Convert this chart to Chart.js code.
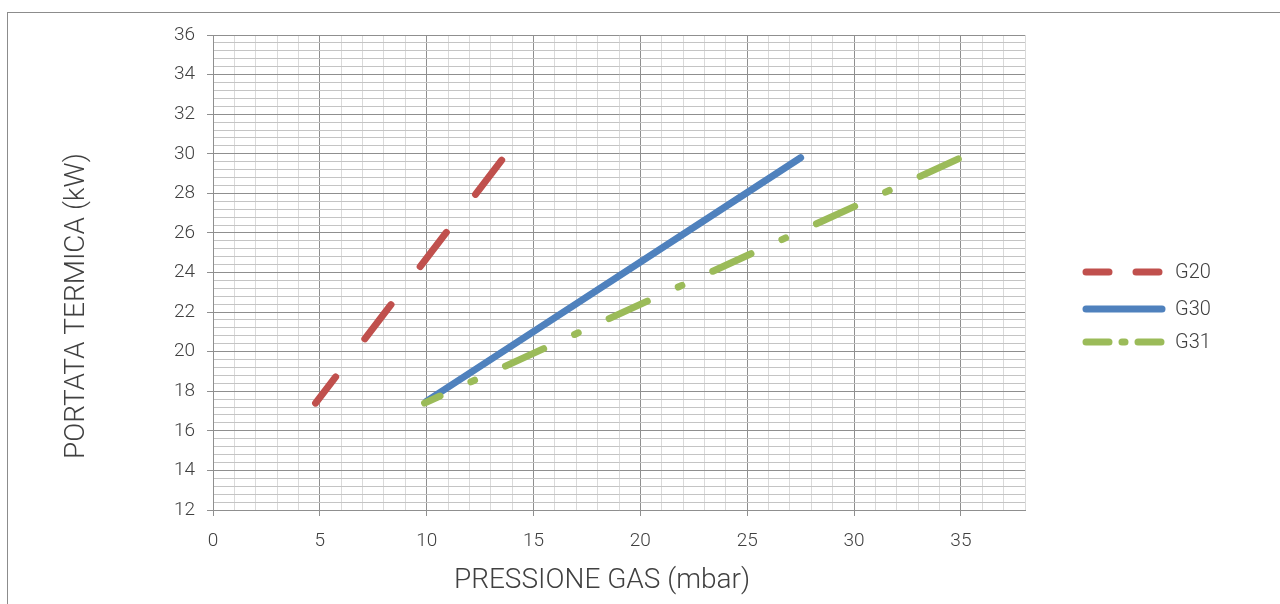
<!DOCTYPE html>
<html>
<head>
<meta charset="utf-8">
<script src="https://cdn.jsdelivr.net/npm/chart.js@4.4.1/dist/chart.umd.min.js"></script>
<style>
  html, body { margin: 0; padding: 0; background: #fff; overflow: hidden; }
  #wrap { position: relative; width: 1280px; height: 604px; }
  #frame { position: absolute; left: 7px; top: 12px; width: 1400px; height: 800px; border: 1px solid #8c8c8c; }
  #gasChart { position: absolute; left: 0; top: 0; }
</style>
</head>
<body>
<div id="wrap">
  <div id="frame"></div>
  <canvas id="gasChart" width="1280" height="604"></canvas>
</div>
<script>
// dati
const seriesNames = ['G20', 'G30', 'G31'];
const g20Pressure = [4.8, 13.6];
const g20Power = [17.4, 29.8];
const g30Pressure = [10.0, 27.5];
const g30Power = [17.5, 29.8];
const g31Pressure = [9.9, 35.0];
const g31Power = [17.4, 29.8];

const xTickLabels = [0, 5, 10, 15, 20, 25, 30, 35];
const yTickLabels = [12, 14, 16, 18, 20, 22, 24, 26, 28, 30, 32, 34, 36];

const xTitle = 'PRESSIONE GAS (mbar)';
const yTitle = 'PORTATA TERMICA (kW)';

const textColor = '#404040';
const majorGrid = '#8f8f8f';
const minorGridH = '#c4c4c4';
const minorGridV = '#dadada';
const fontFamily = 'Roboto, "Noto Sans", sans-serif';

function toPoints(xs, ys) {
  return xs.map((x, i) => ({ x: x, y: ys[i] }));
}
function isOn(v, list) {
  return list.some(t => Math.abs(t - v) < 1e-6);
}

// legenda disegnata a mano (trattini diversi da quelli del grafico)
const legendDash = [[23, 27], [], [23, 13, 3, 13]];
const legendY = [272, 309, 342];

const customLegend = {
  id: 'customLegend',
  afterDraw(chart) {
    const ctx = chart.ctx;
    ctx.save();
    chart.data.datasets.forEach((ds, i) => {
      ctx.beginPath();
      ctx.setLineDash(legendDash[i]);
      ctx.lineCap = 'round';
      ctx.lineWidth = 7;
      ctx.strokeStyle = ds.borderColor;
      ctx.moveTo(1086, legendY[i]);
      ctx.lineTo(1162, legendY[i]);
      ctx.stroke();
      ctx.setLineDash([]);
      ctx.fillStyle = textColor;
      ctx.font = '300 20px ' + fontFamily;
      ctx.textAlign = 'left';
      ctx.textBaseline = 'middle';
      ctx.fillText(ds.label, 1175, legendY[i] + 1);
    });
    ctx.restore();
  }
};

const axisTitles = {
  id: 'axisTitles',
  afterDraw(chart) {
    const ctx = chart.ctx;
    ctx.save();
    ctx.fillStyle = textColor;
    ctx.font = '300 28px ' + fontFamily;
    ctx.textAlign = 'center';
    ctx.textBaseline = 'middle';
    ctx.fillText(xTitle, 602, 581);
    ctx.translate(77, 306);
    ctx.rotate(-Math.PI / 2);
    ctx.fillText(yTitle, 0, 0);
    ctx.restore();
  }
};

const ctx = document.getElementById('gasChart').getContext('2d');
const gasChart = new Chart(ctx, {
  type: 'line',
  data: {
    datasets: [{
      label: seriesNames[0],
      data: toPoints(g20Pressure, g20Power),
      borderColor: '#c0504d',
      borderDash: [43, 48],
      borderDashOffset: 10,
      order: 0
    }, {
      label: seriesNames[1],
      data: toPoints(g30Pressure, g30Power),
      borderColor: '#4f81bd',
      order: 2
    }, {
      label: seriesNames[2],
      data: toPoints(g31Pressure, g31Power),
      borderColor: '#9bbb59',
      borderDash: [42, 34, 4, 34],
      borderDashOffset: 25,
      order: 1
    }]
  },
  options: {
    responsive: false,
    animation: false,
    devicePixelRatio: 1,
    layout: { padding: { left: 0, top: 35, right: 255, bottom: 0 } },
    elements: {
      line: { borderWidth: 7, borderCapStyle: 'round', tension: 0, fill: false },
      point: { radius: 0, hoverRadius: 0 }
    },
    plugins: {
      legend: { display: false },
      tooltip: { enabled: false }
    },
    scales: {
      x: {
        type: 'linear',
        min: 0,
        max: 38,
        afterFit: s => { s.height = 94; },
        border: { color: majorGrid, width: 1 },
        grid: {
          color: c => isOn(c.tick.value, xTickLabels) ? majorGrid : minorGridV,
          tickColor: c => isOn(c.tick.value, xTickLabels) ? majorGrid : 'rgba(0,0,0,0)',
          tickLength: 6
        },
        ticks: {
          stepSize: 1,
          autoSkip: false,
          maxRotation: 0,
          padding: 14,
          color: textColor,
          font: { family: fontFamily, size: 19, weight: '300' },
          callback: v => isOn(v, xTickLabels) ? String(Math.round(v)) : ''
        }
      },
      y: {
        type: 'linear',
        min: 12,
        max: 36,
        afterFit: s => { s.width = 213; },
        border: { color: majorGrid, width: 1 },
        grid: {
          color: c => isOn(c.tick.value, yTickLabels) ? majorGrid : minorGridH,
          tickColor: c => isOn(c.tick.value, yTickLabels) ? majorGrid : 'rgba(0,0,0,0)',
          tickLength: 6
        },
        ticks: {
          stepSize: 0.4,
          autoSkip: false,
          padding: 12,
          color: textColor,
          font: { family: fontFamily, size: 19, weight: '300' },
          callback: v => isOn(v, yTickLabels) ? String(Math.round(v)) : ''
        }
      }
    }
  },
  plugins: [customLegend, axisTitles]
});
</script>
</body>
</html>
